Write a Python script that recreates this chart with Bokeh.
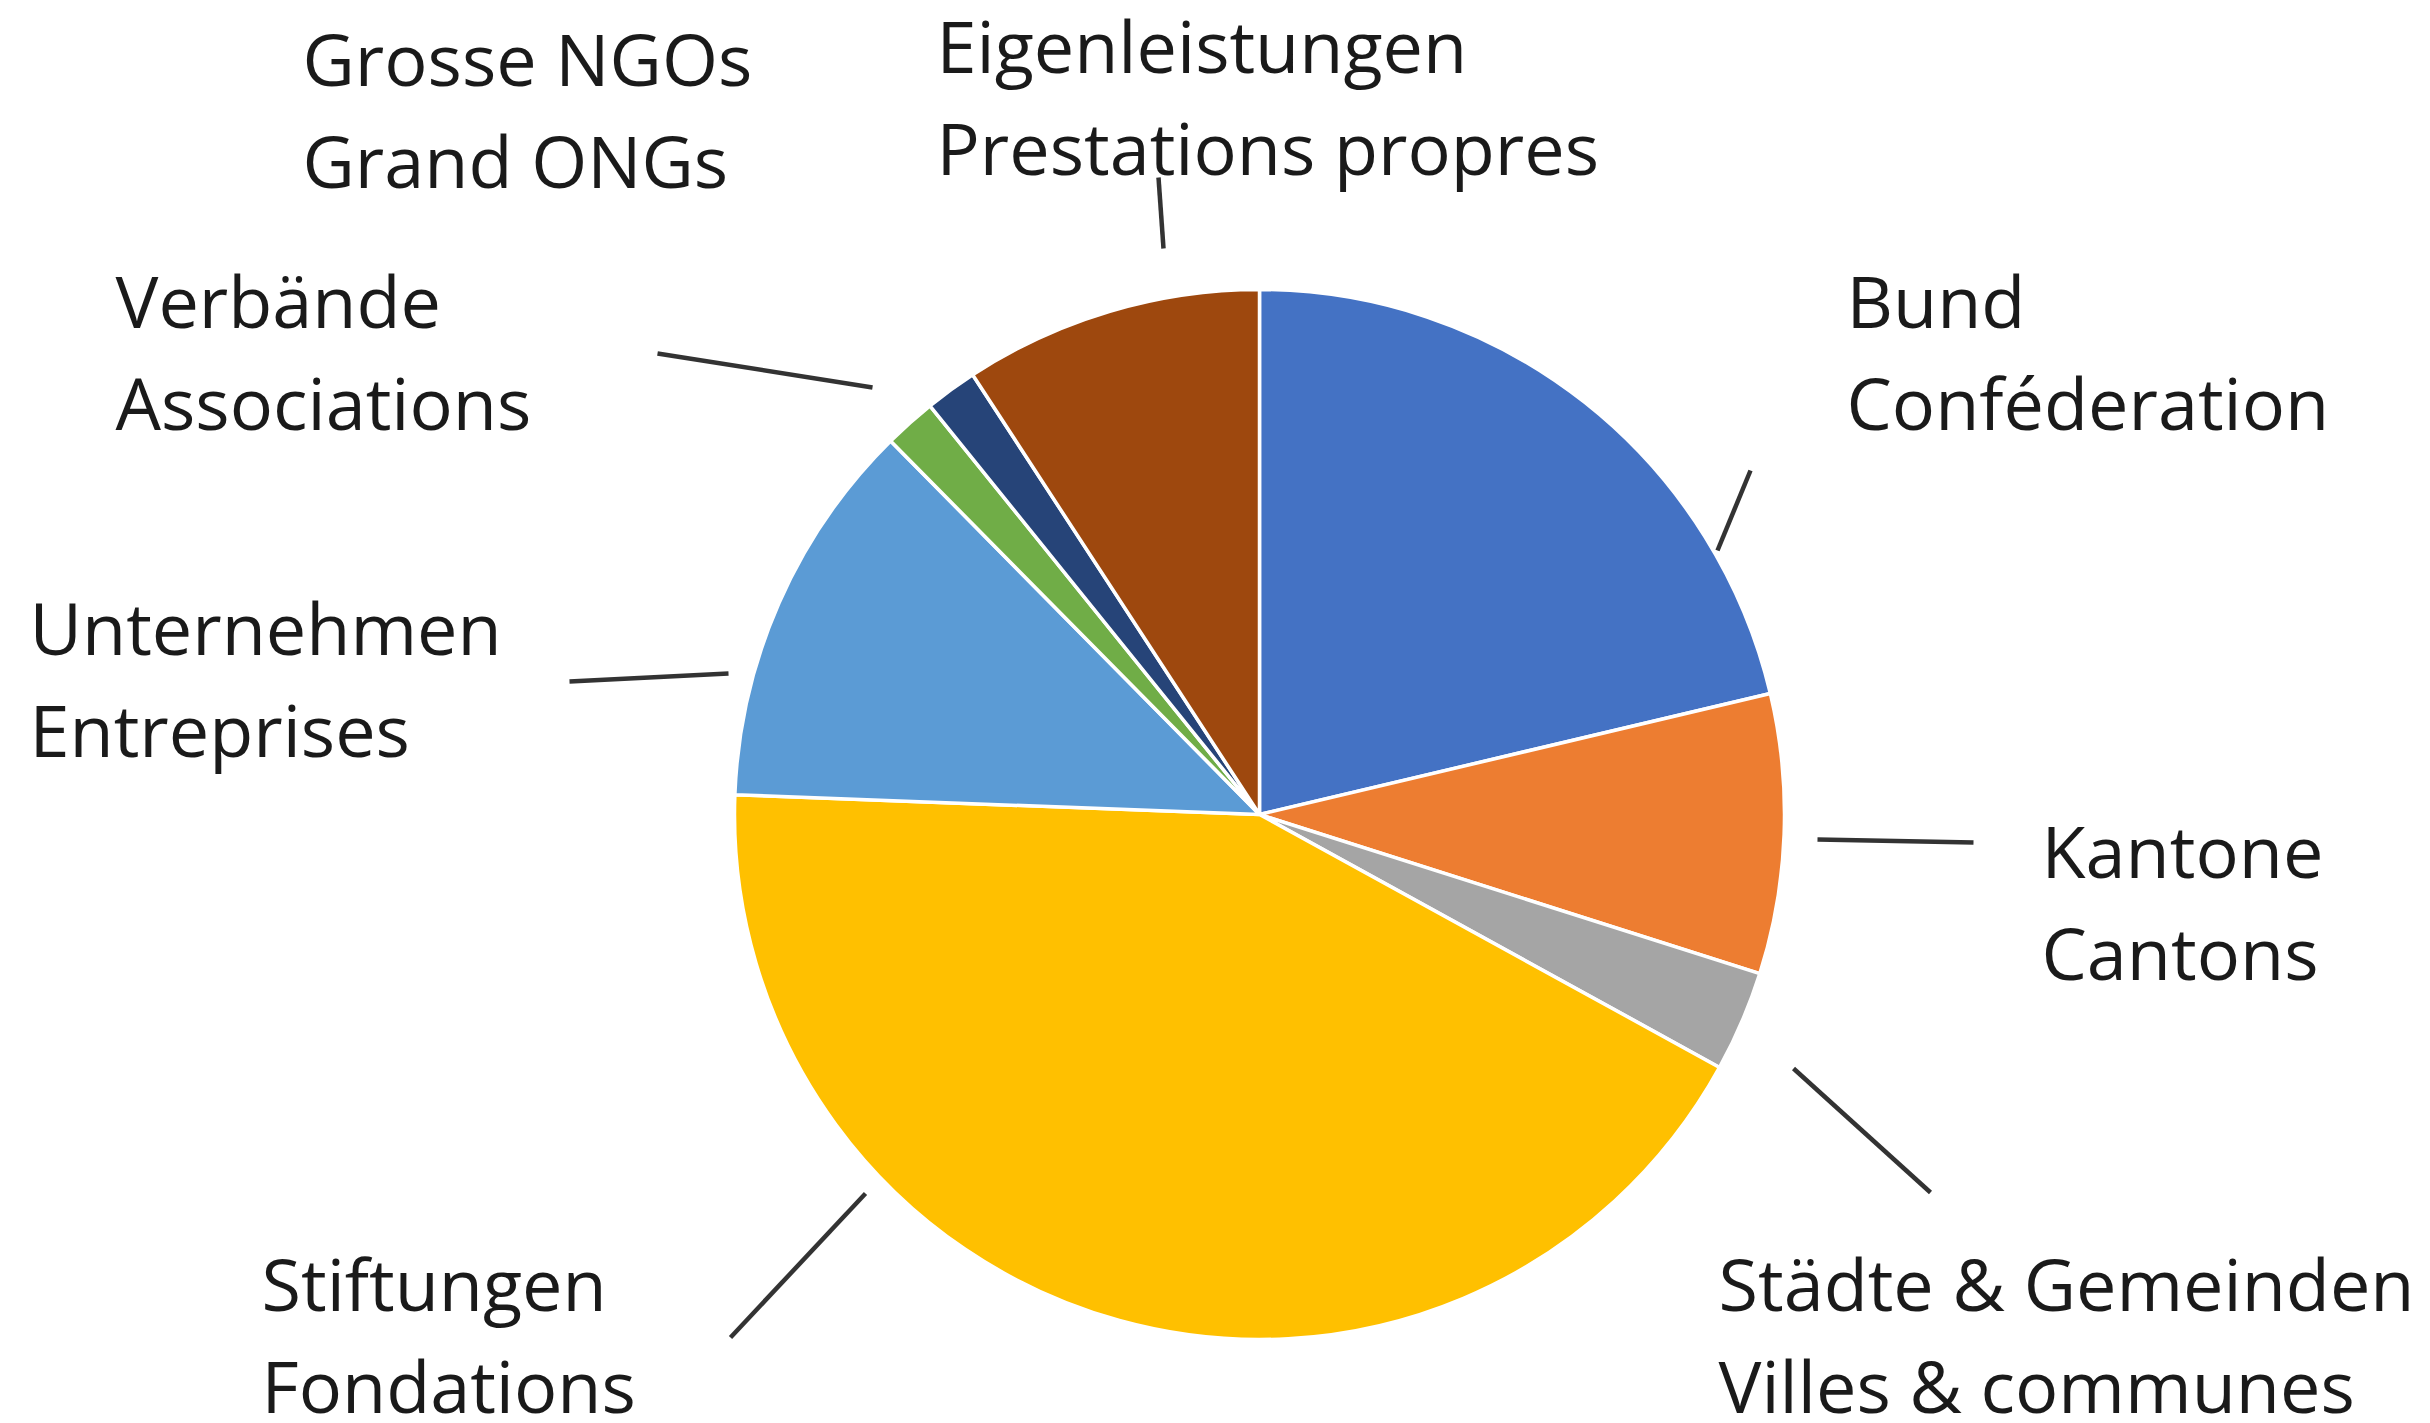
import math
from bokeh.plotting import figure
from bokeh.models import Range1d, ColumnDataSource
from bokeh.core.properties import value
from bokeh.embed import file_html
from bokeh.resources import INLINE

# ---- data ----
labels_de = ["Bund", "Kantone", "Städte & Gemeinden", "Stiftungen",
             "Unternehmen", "Verbände", "Grosse NGOs", "Eigenleistungen"]
labels_fr = ["Conféderation", "Cantons", "Villes & communes", "Fondations",
             "Entreprises", "Associations", "Grand ONGs", "Prestations propres"]
shares = [21.3, 8.6, 3.1, 42.6, 12.0, 1.6, 1.6, 9.2]
colors = ["#4472C4", "#ED7D31", "#A5A5A5", "#FFC000",
          "#5B9BD5", "#70AD47", "#264478", "#9E480E"]

# ---- layout (screen pixels, y downward) ----
W, H = 2430, 1423
CX, CY, R = 1259, 814, 525
FS = 72
LINE_GAP = 102
TEXT_SHIFT = -31
# label anchor: left x, first baseline (screen y)
label_pos = [(1846, 330), (2041, 880), (1718, 1313), (261, 1313),
             (29, 657), (115, 330), (302, 88), (936, 75)]
# leader lines (outer end, inner end), screen coords; None = no line
leaders = [((1750, 470), (1717, 550)),
           ((1973, 842), (1817, 839)),
           ((1930, 1192), (1793, 1068)),
           ((730, 1337), (865, 1193)),
           ((569, 681), (728, 673)),
           ((657, 353), (872, 387)),
           None,
           ((1158, 177), (1163, 248))]

def fy(y):
    return H - y

total = sum(shares)
starts, ends = [], []
cum = 0.0
for v in shares:
    a0 = math.pi / 2 - 2 * math.pi * cum / total
    cum += v
    a1 = math.pi / 2 - 2 * math.pi * cum / total
    starts.append(a0)
    ends.append(a1)

p = figure(width=W, height=H, x_range=Range1d(0, W), y_range=Range1d(0, H),
           output_backend="svg", toolbar_location=None, min_border=0,
           x_axis_location=None, y_axis_location=None)
p.grid.visible = False
p.outline_line_color = None
p.background_fill_color = "white"
p.border_fill_color = "white"

src = ColumnDataSource(dict(start=starts, end=ends, color=colors,
                            label=labels_de))
p.wedge(x=CX, y=fy(CY), radius=R, start_angle="start", end_angle="end",
        direction="clock", fill_color="color", line_color="white",
        line_width=3.5, source=src)

# leader lines
xs, ys = [], []
for ld in leaders:
    if ld is None:
        continue
    (x0, y0), (x1, y1) = ld
    xs.append([x0, x1])
    ys.append([fy(y0), fy(y1)])
p.multi_line(xs=xs, ys=ys, line_color="#333333", line_width=4.5)

# labels
tx, ty, tt = [], [], []
for (lx, ly), de, fr in zip(label_pos, labels_de, labels_fr):
    ly = ly + TEXT_SHIFT
    tx += [lx, lx]
    ty += [fy(ly), fy(ly + LINE_GAP)]
    tt += [de, fr]
p.text(x=tx, y=ty, text=tt, text_font=value("Open Sans"),
       text_font_size=f"{FS}px", text_color="#1a1a1a",
       text_baseline="alphabetic", text_align="left")

open("out.html", "w").write(file_html(p, INLINE))
